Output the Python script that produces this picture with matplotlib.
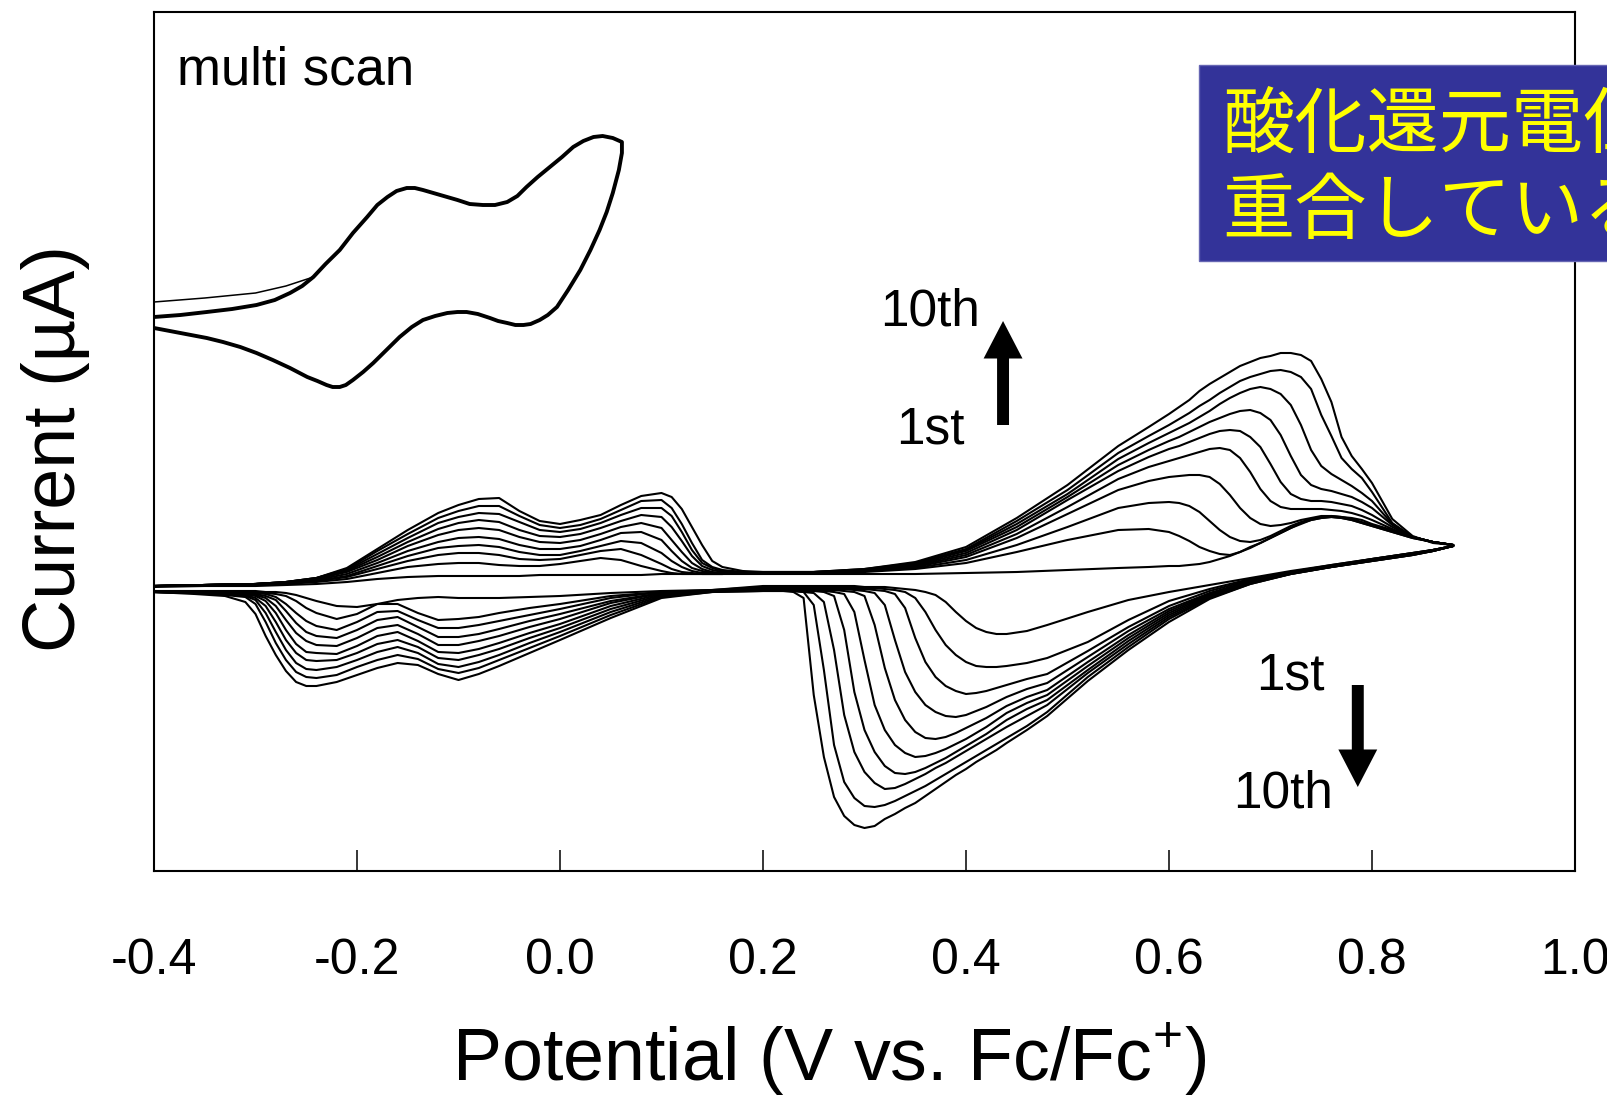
import matplotlib
matplotlib.use("Agg")
import matplotlib.pyplot as plt
from matplotlib.patches import Rectangle

plt.rcParams['font.family'] = ['Liberation Sans', 'DejaVu Sans']
plt.rcParams['axes.unicode_minus'] = False
plt.rcParams['mathtext.fontset'] = 'custom'
plt.rcParams['mathtext.rm'] = 'Liberation Sans'

# ---------------- data (potential in V vs Fc/Fc+, current in arbitrary uA) -------------
# forward sweep potentials (-0.4 -> 0.88 V)
UP_V = [-0.40, -0.35, -0.30, -0.27, -0.24, -0.21, -0.18, -0.15, -0.12, -0.10, -0.08, -0.06,
        -0.04, -0.02, 0.00, 0.02, 0.04, 0.06, 0.08, 0.10, 0.11, 0.12, 0.13, 0.14, 0.15, 0.16,
        0.18, 0.20, 0.25, 0.30, 0.35, 0.40, 0.45, 0.50, 0.55, 0.58, 0.60, 0.61, 0.62, 0.63,
        0.64, 0.65, 0.66, 0.67, 0.68, 0.69, 0.70, 0.71, 0.72, 0.73, 0.74, 0.75, 0.76, 0.77,
        0.78, 0.79, 0.80, 0.82, 0.84, 0.86, 0.88]
# reverse sweep potentials (0.88 -> -0.4 V)
DN_V = [0.88, 0.86, 0.84, 0.82, 0.80, 0.76, 0.72, 0.68, 0.64, 0.60, 0.56, 0.52, 0.48, 0.46,
        0.44, 0.43, 0.42, 0.41, 0.40, 0.39, 0.38, 0.37, 0.36, 0.35, 0.34, 0.33, 0.32, 0.31,
        0.30, 0.29, 0.28, 0.27, 0.26, 0.25, 0.24, 0.23, 0.22, 0.20, 0.15, 0.10, 0.05, 0.00,
        -0.03, -0.06, -0.08, -0.10, -0.12, -0.14, -0.16, -0.18, -0.20, -0.22, -0.24, -0.25,
        -0.26, -0.27, -0.28, -0.29, -0.30, -0.31, -0.33, -0.36, -0.40]

scan01_up = [0.3, 0.4, 0.4, 0.5, 0.6, 0.8, 1.1, 1.3, 1.4, 1.4, 1.4, 1.4, 1.4, 1.5, 1.5, 1.5, 1.5, 1.5, 1.5, 1.6, 1.6, 1.6, 1.6, 1.6, 1.6, 1.6, 1.6, 1.6,
             1.6, 1.6, 1.6, 1.7, 1.8, 2.0, 2.2, 2.3, 2.4, 2.4, 2.5, 2.6, 2.8, 3.1, 3.4, 3.8, 4.2, 4.7, 5.2, 5.7, 6.2, 6.6, 7.0, 7.2, 7.3, 7.2, 7.0, 6.7, 6.4, 5.8, 5.2, 4.8, 4.5]
scan02_up = [0.4, 0.5, 0.5, 0.6, 0.8, 1.1, 1.7, 2.3, 2.6, 2.7, 2.7, 2.5, 2.4, 2.4, 2.6, 2.9, 3.2, 3.0, 2.4, 1.9, 1.7, 1.6, 1.6, 1.6, 1.6, 1.6, 1.7, 1.7,
             1.7, 1.8, 2.1, 2.7, 3.8, 5.0, 6.0, 6.1, 5.8, 5.4, 4.9, 4.3, 3.9, 3.6, 3.5, 3.8, 4.3, 4.7, 5.2, 5.7, 6.2, 6.7, 7.0, 7.2, 7.3, 7.2, 7.0, 6.7, 6.4, 5.8, 5.2, 4.8, 4.5]
scan03_up = [0.4, 0.5, 0.6, 0.7, 0.9, 1.3, 2.1, 2.9, 3.5, 3.7, 3.7, 3.5, 3.1, 3.0, 3.1, 3.5, 3.9, 4.1, 3.5, 2.6, 2.1, 1.8, 1.7, 1.6, 1.6, 1.6, 1.7, 1.7,
             1.7, 1.9, 2.2, 3.0, 4.5, 6.3, 8.2, 8.7, 8.8, 8.7, 8.4, 7.8, 6.9, 6.0, 5.3, 4.9, 4.8, 5.0, 5.4, 5.9, 6.4, 6.8, 7.1, 7.3, 7.4, 7.3, 7.1, 6.8, 6.5, 5.9, 5.3, 4.8, 4.5]
scan04_up = [0.4, 0.5, 0.6, 0.7, 0.9, 1.4, 2.4, 3.4, 4.2, 4.4, 4.5, 4.3, 3.8, 3.5, 3.5, 3.9, 4.4, 4.9, 4.7, 3.7, 2.9, 2.3, 1.9, 1.7, 1.7, 1.7, 1.7, 1.7,
             1.7, 1.9, 2.3, 3.3, 5.2, 7.6, 10.0, 10.9, 11.3, 11.4, 11.5, 11.5, 11.3, 10.6, 9.5, 8.2, 7.2, 6.6, 6.4, 6.5, 6.7, 7.0, 7.2, 7.4, 7.4, 7.3, 7.2, 7.0, 6.6, 6.0, 5.3, 4.8, 4.5]
scan05_up = [0.4, 0.5, 0.6, 0.7, 1.0, 1.6, 2.7, 3.9, 4.8, 5.2, 5.3, 5.1, 4.5, 4.1, 4.1, 4.4, 5.0, 5.7, 5.8, 5.0, 3.9, 2.9, 2.2, 1.9, 1.7, 1.7, 1.7, 1.7,
             1.7, 1.9, 2.4, 3.5, 5.6, 8.3, 11.1, 12.3, 12.9, 13.2, 13.5, 13.8, 14.1, 14.2, 14.0, 13.2, 11.8, 10.1, 8.9, 8.3, 8.1, 8.1, 8.1, 8.1, 8.0, 7.9, 7.7, 7.4, 7.0, 6.1, 5.3, 4.8, 4.5]
scan06_up = [0.4, 0.5, 0.6, 0.7, 1.1, 1.8, 3.0, 4.4, 5.5, 6.0, 6.2, 6.0, 5.3, 4.8, 4.7, 5.0, 5.6, 6.3, 6.7, 6.2, 5.0, 3.8, 2.7, 2.1, 1.8, 1.7, 1.7, 1.7,
             1.7, 2.0, 2.5, 3.7, 6.0, 9.0, 11.9, 13.3, 14.1, 14.4, 14.8, 15.2, 15.6, 15.9, 16.0, 15.9, 15.3, 14.3, 12.6, 10.8, 9.6, 9.1, 8.9, 8.9, 8.8, 8.6, 8.4, 8.0, 7.5, 6.3, 5.3, 4.8, 4.5]
scan07_up = [0.4, 0.5, 0.6, 0.8, 1.1, 1.9, 3.3, 4.8, 6.1, 6.7, 7.0, 6.8, 6.0, 5.4, 5.3, 5.6, 6.2, 6.9, 7.5, 7.3, 6.3, 4.9, 3.4, 2.4, 2.0, 1.8, 1.7, 1.7,
             1.8, 2.0, 2.6, 3.9, 6.3, 9.3, 12.5, 14.0, 14.9, 15.3, 15.8, 16.3, 16.8, 17.2, 17.6, 17.9, 18.0, 17.7, 17.0, 15.5, 13.4, 11.5, 10.5, 10.1, 9.9, 9.6, 9.3, 8.8, 8.2, 6.5, 5.3, 4.8, 4.5]
scan08_up = [0.4, 0.5, 0.6, 0.8, 1.2, 2.0, 3.6, 5.2, 6.7, 7.3, 7.7, 7.6, 6.8, 6.0, 5.8, 6.1, 6.7, 7.5, 8.2, 8.2, 7.4, 5.8, 4.0, 2.7, 2.2, 1.9, 1.8, 1.8,
             1.8, 2.0, 2.7, 4.0, 6.6, 9.6, 13.1, 14.7, 15.7, 16.2, 16.7, 17.3, 17.9, 18.6, 19.2, 19.7, 20.1, 20.3, 20.1, 19.6, 18.5, 16.5, 14.0, 12.4, 11.6, 11.0, 10.4, 9.7, 8.9, 6.6, 5.3, 4.8, 4.5]
scan09_up = [0.4, 0.5, 0.6, 0.8, 1.2, 2.1, 3.9, 5.6, 7.2, 7.9, 8.4, 8.4, 7.4, 6.5, 6.2, 6.5, 7.1, 8.0, 8.9, 9.0, 8.2, 6.6, 4.7, 3.0, 2.3, 2.0, 1.8, 1.8,
             1.8, 2.1, 2.7, 4.1, 6.9, 10.0, 13.7, 15.4, 16.5, 17.1, 17.7, 18.4, 19.0, 19.7, 20.3, 20.9, 21.3, 21.6, 21.9, 22.0, 21.8, 21.3, 20.1, 17.5, 15.4, 13.2, 12.1, 11.2, 9.8, 6.7, 5.3, 4.8, 4.5]
scan10_up = [0.4, 0.5, 0.6, 0.8, 1.2, 2.2, 4.1, 6.0, 7.7, 8.5, 9.1, 9.2, 7.9, 6.9, 6.6, 7.0, 7.5, 8.5, 9.4, 9.7, 9.3, 8.1, 6.3, 4.5, 2.9, 2.3, 1.9, 1.8,
             1.8, 2.1, 2.8, 4.3, 7.2, 10.5, 14.4, 16.3, 17.6, 18.3, 19.0, 19.9, 20.6, 21.2, 21.8, 22.4, 22.8, 23.2, 23.4, 23.7, 23.7, 23.5, 22.9, 21.1, 18.8, 15.3, 13.4, 12.1, 10.7, 7.1, 5.4, 4.7, 4.5]

scan01_dn = [4.4, 4.0, 3.7, 3.4, 3.1, 2.5, 1.9, 1.2, 0.5, -0.2, -1.0, -2.2, -3.5, -4.1, -4.4, -4.4, -4.2, -3.8, -3.1, -2.2, -1.2, -0.5, -0.2, 0.0, 0.1, 0.2, 0.3, 0.3, 0.3, 0.4, 0.4, 0.4, 0.4, 0.4, 0.4, 0.4, 0.4, 0.4,
             0.0, -0.1, -0.3, -0.6, -0.7, -0.8, -0.8, -0.8, -0.7, -0.8, -1.0, -1.4, -1.7, -1.6, -1.1, -0.8, -0.5, -0.3, -0.2, -0.2, -0.1, -0.1, -0.1, -0.1, -0.1]
scan02_dn = [4.4, 4.0, 3.7, 3.4, 3.1, 2.5, 1.8, 1.1, 0.1, -1.1, -3.0, -5.2, -6.8, -7.3, -7.6, -7.7, -7.7, -7.6, -7.2, -6.5, -5.5, -4.0, -2.2, -0.8, -0.2, 0.0, 0.1, 0.2, 0.2, 0.3, 0.3, 0.3, 0.3, 0.3, 0.3, 0.3, 0.3, 0.3,
             0.0, -0.2, -0.6, -1.4, -1.8, -2.3, -2.7, -2.9, -3.0, -2.3, -1.4, -1.4, -2.4, -2.9, -2.3, -1.8, -1.1, -0.6, -0.4, -0.3, -0.3, -0.2, -0.2, -0.2, -0.2]
scan03_dn = [4.4, 4.0, 3.7, 3.4, 3.1, 2.4, 1.8, 1.0, -0.1, -1.6, -3.7, -6.1, -8.4, -8.9, -9.5, -9.8, -10.1, -10.3, -10.4, -10.1, -9.6, -8.7, -7.2, -4.8, -1.8, -0.4, -0.1, 0.0, 0.1, 0.1, 0.2, 0.2, 0.2, 0.2, 0.2, 0.2, 0.2, 0.2,
             -0.1, -0.2, -0.8, -1.9, -2.5, -3.1, -3.5, -3.8, -3.8, -3.0, -2.1, -2.2, -3.2, -4.0, -3.6, -3.1, -2.3, -1.4, -0.7, -0.4, -0.3, -0.3, -0.2, -0.2, -0.2]
scan04_dn = [4.4, 4.0, 3.6, 3.3, 3.0, 2.4, 1.7, 0.9, -0.3, -1.9, -4.1, -6.7, -9.3, -9.9, -10.7, -11.2, -11.7, -12.1, -12.5, -12.7, -12.6, -12.2, -11.5, -10.2, -8.2, -5.0, -1.5, -0.3, -0.1, 0.0, 0.1, 0.1, 0.1, 0.2, 0.2, 0.2, 0.2, 0.2,
             -0.1, -0.3, -1.1, -2.4, -3.1, -3.9, -4.4, -4.7, -4.7, -3.7, -2.7, -3.0, -4.0, -4.8, -4.6, -4.2, -3.3, -2.1, -1.0, -0.6, -0.4, -0.3, -0.3, -0.2, -0.2]
scan05_dn = [4.4, 4.0, 3.6, 3.3, 3.0, 2.4, 1.7, 0.8, -0.4, -2.1, -4.5, -7.2, -10.0, -10.7, -11.6, -12.2, -12.8, -13.3, -13.8, -14.3, -14.7, -14.9, -14.8, -14.2, -13.0, -11.0, -7.8, -3.5, -0.6, -0.2, -0.1, 0.0, 0.0, 0.1, 0.1, 0.1, 0.1, 0.1,
             -0.1, -0.3, -1.3, -2.9, -3.7, -4.6, -5.1, -5.5, -5.5, -4.4, -3.5, -3.8, -4.8, -5.6, -5.5, -5.1, -4.3, -3.0, -1.6, -0.8, -0.5, -0.4, -0.3, -0.2, -0.2]
scan06_dn = [4.4, 3.9, 3.6, 3.3, 3.0, 2.4, 1.7, 0.8, -0.5, -2.3, -4.8, -7.6, -10.5, -11.3, -12.3, -13.0, -13.7, -14.3, -14.9, -15.4, -15.9, -16.3, -16.6, -16.7, -16.3, -15.5, -14.0, -11.5, -7.0, -2.2, -0.4, -0.2, -0.1, 0.0, 0.1, 0.1, 0.1, 0.1,
             -0.1, -0.4, -1.6, -3.4, -4.3, -5.3, -5.9, -6.3, -6.2, -5.1, -4.2, -4.6, -5.6, -6.4, -6.3, -6.2, -5.4, -4.0, -2.3, -1.1, -0.6, -0.4, -0.3, -0.3, -0.2]
scan07_dn = [4.4, 3.9, 3.6, 3.3, 3.0, 2.3, 1.7, 0.7, -0.6, -2.5, -5.1, -8.0, -11.0, -11.9, -13.0, -13.7, -14.4, -15.0, -15.6, -16.2, -16.8, -17.3, -17.8, -18.2, -18.4, -18.3, -17.6, -16.2, -14.0, -10.2, -4.0, -0.6, -0.2, -0.1, -0.1, 0.0, 0.0, 0.0,
             -0.1, -0.5, -1.9, -3.8, -4.8, -5.9, -6.5, -7.0, -6.8, -5.7, -5.0, -5.4, -6.3, -7.0, -7.1, -7.0, -6.3, -5.0, -3.2, -1.6, -0.8, -0.5, -0.4, -0.3, -0.2]
scan08_dn = [4.4, 3.9, 3.5, 3.2, 2.9, 2.3, 1.6, 0.7, -0.7, -2.7, -5.4, -8.3, -11.5, -12.6, -13.7, -14.3, -14.9, -15.5, -16.1, -16.7, -17.3, -17.8, -18.4, -18.9, -19.4, -19.8, -19.9, -19.3, -18.2, -16.2, -12.5, -6.0, -1.2, -0.3, -0.2, -0.1, 0.0, 0.0,
             -0.1, -0.6, -2.2, -4.2, -5.3, -6.5, -7.2, -7.7, -7.4, -6.3, -5.7, -6.2, -7.0, -7.7, -8.0, -7.9, -7.3, -6.0, -4.2, -2.3, -1.0, -0.6, -0.4, -0.3, -0.2]
scan09_dn = [4.4, 3.9, 3.5, 3.2, 2.9, 2.3, 1.6, 0.6, -0.8, -2.9, -5.7, -8.7, -12.2, -13.6, -14.8, -15.4, -16.0, -16.6, -17.2, -17.8, -18.4, -19.0, -19.6, -20.1, -20.6, -21.1, -21.5, -21.7, -21.6, -20.8, -19.2, -15.5, -8.0, -1.5, -0.2, -0.1, -0.1, -0.1,
             -0.2, -0.7, -2.5, -4.6, -5.8, -7.0, -7.8, -8.3, -7.9, -6.9, -6.5, -7.0, -7.7, -8.5, -8.8, -8.7, -8.2, -7.0, -5.3, -3.2, -1.4, -0.7, -0.5, -0.3, -0.2]
scan10_dn = [4.4, 3.9, 3.5, 3.2, 2.9, 2.3, 1.6, 0.6, -0.9, -3.2, -6.0, -9.1, -12.6, -14.0, -15.3, -16.0, -16.6, -17.2, -17.9, -18.5, -19.2, -19.9, -20.6, -21.3, -21.8, -22.4, -22.9, -23.6, -23.8, -23.5, -22.6, -20.7, -16.7, -10.5, -0.8, -0.2, -0.1, -0.1,
             -0.2, -0.8, -2.8, -5.0, -6.3, -7.6, -8.4, -9.0, -8.4, -7.5, -7.3, -7.8, -8.5, -9.2, -9.6, -9.6, -9.2, -8.1, -6.5, -4.6, -2.4, -1.2, -0.6, -0.4, -0.2]

# upper-left loop (multi-scan CV, drawn shifted upwards)
INSET_UP_V = [-0.400, -0.374, -0.348, -0.323, -0.299, -0.281, -0.266, -0.254, -0.243, -0.231,
              -0.217, -0.204, -0.190, -0.180, -0.170, -0.161, -0.151, -0.143, -0.135, -0.118,
              -0.101, -0.089, -0.076, -0.064, -0.052, -0.042, -0.033, -0.022, -0.010, 0.002,
              0.013, 0.023, 0.033, 0.042, 0.052, 0.061]
INSET_UP_I = [27.3, 27.5, 27.8, 28.1, 28.5, 29.0, 29.7, 30.4, 31.3, 32.6,
              34.0, 35.7, 37.3, 38.5, 39.3, 39.9, 40.2, 40.2, 40.0, 39.5,
              39.0, 38.6, 38.5, 38.5, 38.8, 39.4, 40.3, 41.3, 42.3, 43.3,
              44.3, 44.9, 45.3, 45.4, 45.2, 44.8]
INSET_DN_V = [0.061, 0.058, 0.052, 0.046, 0.039, 0.030, 0.020, 0.008, -0.003, -0.012, -0.020,
              -0.029, -0.036, -0.044, -0.052, -0.061, -0.069, -0.081, -0.092, -0.101, -0.111,
              -0.123, -0.135, -0.146, -0.158, -0.171, -0.184, -0.194, -0.204, -0.211, -0.217,
              -0.224, -0.230, -0.239, -0.249, -0.266, -0.283, -0.299, -0.315, -0.332, -0.348,
              -0.374, -0.400]
INSET_DN_I = [43.7, 42.0, 39.7, 37.8, 36.0, 34.0, 32.0, 30.0, 28.3, 27.5, 27.0,
              26.6, 26.5, 26.5, 26.7, 26.9, 27.2, 27.6, 27.8, 27.8, 27.7,
              27.4, 27.0, 26.3, 25.3, 24.0, 22.7, 21.8, 21.0, 20.5, 20.3,
              20.3, 20.5, 20.9, 21.3, 22.2, 23.0, 23.7, 24.3, 24.8, 25.2,
              25.7, 26.2]
INSET_FIRST_V = [-0.400, -0.350, -0.300, -0.270, -0.243]
INSET_FIRST_I = [28.8, 29.2, 29.7, 30.4, 31.3]

XTICKS = [-0.4, -0.2, 0.0, 0.2, 0.4, 0.6, 0.8, 1.0]
XTICK_LABELS = ['-0.4', '-0.2', '0.0', '0.2', '0.4', '0.6', '0.8', '1.0']

# ---------------- figure -------------
W, H = 1607, 1095
fig = plt.figure(figsize=(W / 100, H / 100), dpi=100)
ax = fig.add_axes([154 / W, 1 - 871 / H, (1575 - 154) / W, (871 - 12) / H])
ax.set_xlim(-0.4, 1.0)
ax.set_ylim(-28.1, 57.8)

ups = [scan01_up, scan02_up, scan03_up, scan04_up, scan05_up,
       scan06_up, scan07_up, scan08_up, scan09_up, scan10_up]
dns = [scan01_dn, scan02_dn, scan03_dn, scan04_dn, scan05_dn,
       scan06_dn, scan07_dn, scan08_dn, scan09_dn, scan10_dn]
for up, dn in zip(ups, dns):
    ax.plot(UP_V + DN_V, up + dn, color='black', lw=1.5, solid_joinstyle='round')

ax.plot(INSET_UP_V + INSET_DN_V, INSET_UP_I + INSET_DN_I, color='black', lw=2.8,
        solid_joinstyle='round')
ax.plot(INSET_FIRST_V, INSET_FIRST_I, color='black', lw=1.1)

ax.set_xticks(XTICKS)
ax.set_xticklabels(XTICK_LABELS)
ax.set_yticks([])
ax.tick_params(axis='x', direction='in', length=15, width=1.1, pad=48, labelsize=36)
for s in ax.spines.values():
    s.set_linewidth(1.5)

# arrows
arrow_kw = dict(arrowstyle='simple,head_length=27,head_width=28,tail_width=8.6',
                mutation_scale=1, fc='black', ec='none', shrinkA=0, shrinkB=0)
ax.annotate('', xy=(0.4365, 26.9), xytext=(0.4365, 16.5), arrowprops=arrow_kw)
ax.annotate('', xy=(0.786, -19.7), xytext=(0.786, -9.5), arrowprops=arrow_kw)


def fx(px):
    return px / W


def fy(py):
    return 1 - py / H


fig.text(fx(177), fy(85), 'multi scan', fontsize=38, ha='left', va='baseline')
fig.text(fx(930), fy(326), '10th', fontsize=37, ha='center', va='baseline')
fig.text(fx(930), fy(443), '1st', fontsize=37, ha='center', va='baseline')
fig.text(fx(1290), fy(689), '1st', fontsize=37, ha='center', va='baseline')
fig.text(fx(1283), fy(807), '10th', fontsize=37, ha='center', va='baseline')

fig.text(fx(56), fy(448), 'Current (µA)', fontsize=53, rotation=90, ha='center', va='center')
fig.text(fx(829), fy(1081), r'Potential (V vs. Fc/Fc$^{+}$)', fontsize=53, ha='center',
         va='baseline')

# highlighted note box (runs off the right edge, as in the original)
fig.add_artist(Rectangle((fx(1199), fy(261)), (1750 - 1199) / W, (261 - 65) / H,
                         transform=fig.transFigure, facecolor='#333399',
                         edgecolor='#6666b3', lw=1.0, zorder=5))
fig.text(fx(1222), fy(147), '酸化還元電位', fontsize=52, color='#ffff00',
         family=['Noto Sans CJK JP'], ha='left', va='baseline', zorder=6)
fig.text(fx(1222), fy(233), '重合している', fontsize=52, color='#ffff00',
         family=['Noto Sans CJK JP'], ha='left', va='baseline', zorder=6)

fig.savefig('out.png', dpi=100)
